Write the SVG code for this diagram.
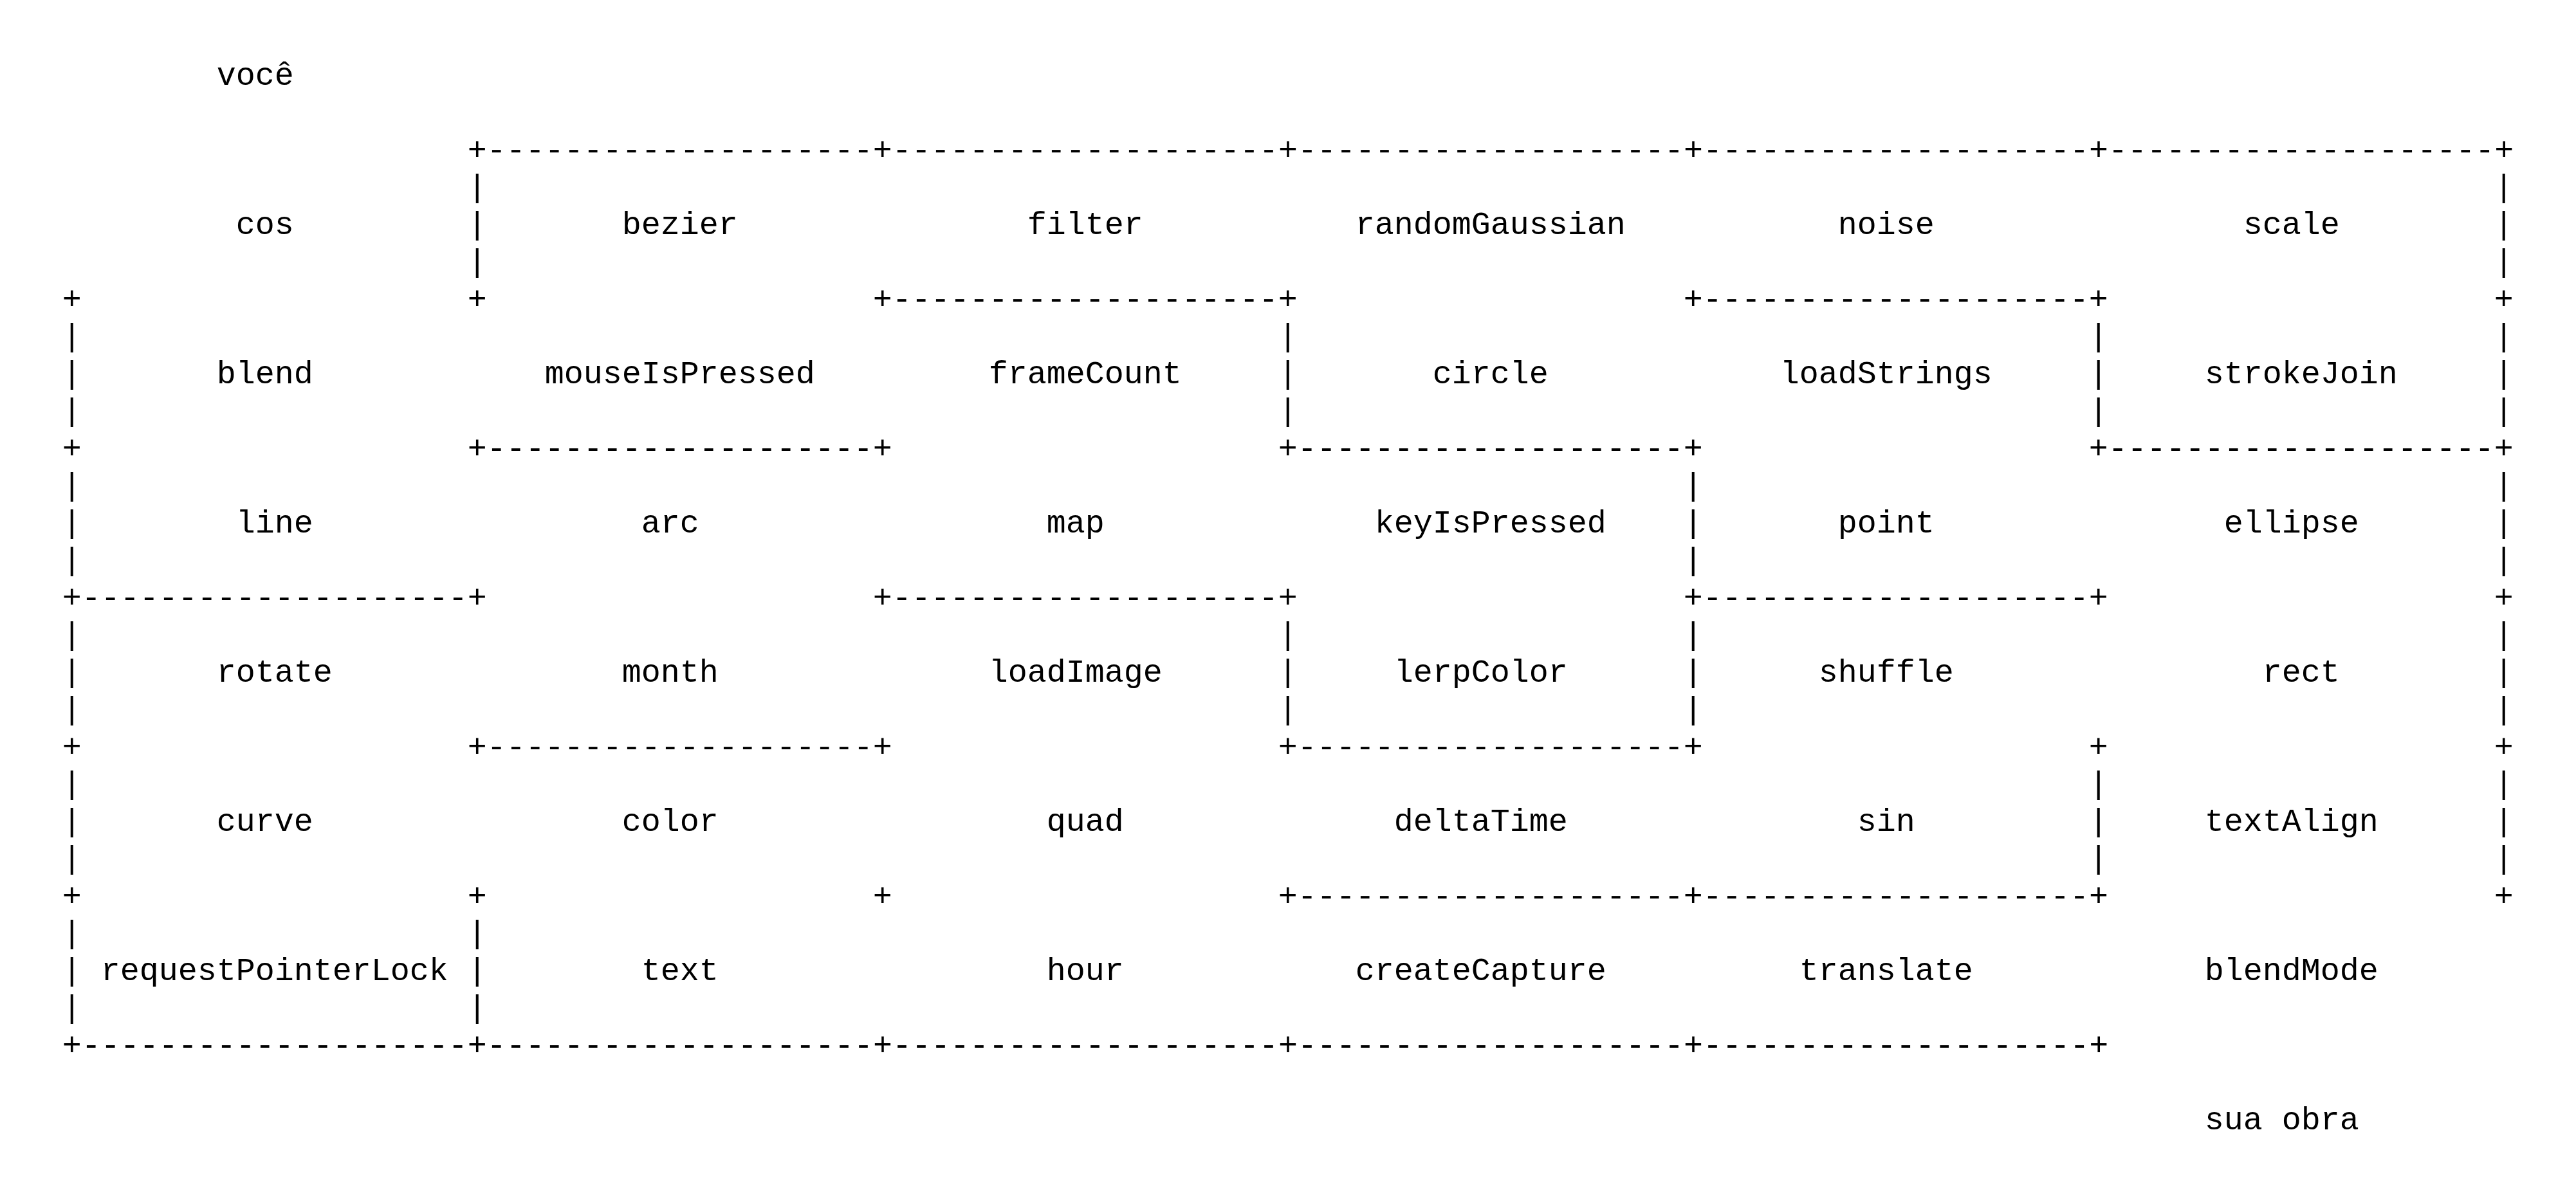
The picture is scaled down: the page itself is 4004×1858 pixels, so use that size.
<svg xmlns="http://www.w3.org/2000/svg" width="4004" height="1858" viewBox="0 0 4004 1858">
<style>
text { font-family: "Liberation Mono", "Courier New", "DejaVu Sans Mono", monospace; font-size: 50px; fill: #000; }
</style>
<rect x="0" y="0" width="4004" height="1858" fill="#fff"/>
<g id="connectors">
  <text x="726.7" y="247.7">+--------------------+--------------------+--------------------+--------------------+--------------------+</text>
  <text x="726.7" y="305.7">|</text><text x="3876.7" y="305.7">|</text>
  <text x="726.7" y="363.7">|</text><text x="3876.7" y="363.7">|</text>
  <text x="726.7" y="421.7">|</text><text x="3876.7" y="421.7">|</text>
  <text x="96.7" y="479.7">+</text><text x="726.7" y="479.7">+</text>
  <text x="1356.7" y="479.7">+--------------------+</text>
  <text x="2616.7" y="479.7">+--------------------+</text>
  <text x="3876.7" y="479.7">+</text>
  <text x="96.7" y="537.7">|</text><text x="1986.7" y="537.7">|</text><text x="3246.7" y="537.7">|</text><text x="3876.7" y="537.7">|</text>
  <text x="96.7" y="595.7">|</text><text x="1986.7" y="595.7">|</text><text x="3246.7" y="595.7">|</text><text x="3876.7" y="595.7">|</text>
  <text x="96.7" y="653.7">|</text><text x="1986.7" y="653.7">|</text><text x="3246.7" y="653.7">|</text><text x="3876.7" y="653.7">|</text>
  <text x="96.7" y="711.7">+</text>
  <text x="726.7" y="711.7">+--------------------+</text>
  <text x="1986.7" y="711.7">+--------------------+</text>
  <text x="3246.7" y="711.7">+--------------------+</text>
  <text x="96.7" y="769.7">|</text><text x="2616.7" y="769.7">|</text><text x="3876.7" y="769.7">|</text>
  <text x="96.7" y="827.7">|</text><text x="2616.7" y="827.7">|</text><text x="3876.7" y="827.7">|</text>
  <text x="96.7" y="885.7">|</text><text x="2616.7" y="885.7">|</text><text x="3876.7" y="885.7">|</text>
  <text x="96.7" y="943.7">+--------------------+</text>
  <text x="1356.7" y="943.7">+--------------------+</text>
  <text x="2616.7" y="943.7">+--------------------+</text>
  <text x="3876.7" y="943.7">+</text>
  <text x="96.7" y="1001.7">|</text><text x="1986.7" y="1001.7">|</text><text x="2616.7" y="1001.7">|</text><text x="3876.7" y="1001.7">|</text>
  <text x="96.7" y="1059.7">|</text><text x="1986.7" y="1059.7">|</text><text x="2616.7" y="1059.7">|</text><text x="3876.7" y="1059.7">|</text>
  <text x="96.7" y="1117.7">|</text><text x="1986.7" y="1117.7">|</text><text x="2616.7" y="1117.7">|</text><text x="3876.7" y="1117.7">|</text>
  <text x="96.7" y="1175.7">+</text>
  <text x="726.7" y="1175.7">+--------------------+</text>
  <text x="1986.7" y="1175.7">+--------------------+</text>
  <text x="3246.7" y="1175.7">+</text><text x="3876.7" y="1175.7">+</text>
  <text x="96.7" y="1233.7">|</text><text x="3246.7" y="1233.7">|</text><text x="3876.7" y="1233.7">|</text>
  <text x="96.7" y="1291.7">|</text><text x="3246.7" y="1291.7">|</text><text x="3876.7" y="1291.7">|</text>
  <text x="96.7" y="1349.7">|</text><text x="3246.7" y="1349.7">|</text><text x="3876.7" y="1349.7">|</text>
  <text x="96.7" y="1407.7">+</text><text x="726.7" y="1407.7">+</text><text x="1356.7" y="1407.7">+</text>
  <text x="1986.7" y="1407.7">+--------------------+--------------------+</text>
  <text x="3876.7" y="1407.7">+</text>
  <text x="96.7" y="1465.7">|</text><text x="726.7" y="1465.7">|</text>
  <text x="96.7" y="1523.7">|</text><text x="726.7" y="1523.7">|</text>
  <text x="96.7" y="1581.7">|</text><text x="726.7" y="1581.7">|</text>
  <text x="96.7" y="1639.7">+--------------------+--------------------+--------------------+--------------------+--------------------+</text>
</g>
<g id="you"><text x="336.7" y="131.7">você</text></g>
<g id="cos"><text x="366.7" y="363.7">cos</text></g>
<g id="bezier"><text x="966.7" y="363.7">bezier</text></g>
<g id="filter"><text x="1596.7" y="363.7">filter</text></g>
<g id="randomGaussian"><text x="2106.7" y="363.7">randomGaussian</text></g>
<g id="noise"><text x="2856.7" y="363.7">noise</text></g>
<g id="scale"><text x="3486.7" y="363.7">scale</text></g>
<g id="blend"><text x="336.7" y="595.7">blend</text></g>
<g id="mouseIsPressed"><text x="846.7" y="595.7">mouseIsPressed</text></g>
<g id="frameCount"><text x="1536.7" y="595.7">frameCount</text></g>
<g id="circle"><text x="2226.7" y="595.7">circle</text></g>
<g id="loadStrings"><text x="2766.7" y="595.7">loadStrings</text></g>
<g id="strokeJoin"><text x="3426.7" y="595.7">strokeJoin</text></g>
<g id="line"><text x="366.7" y="827.7">line</text></g>
<g id="arc"><text x="996.7" y="827.7">arc</text></g>
<g id="map"><text x="1626.7" y="827.7">map</text></g>
<g id="keyIsPressed"><text x="2136.7" y="827.7">keyIsPressed</text></g>
<g id="point"><text x="2856.7" y="827.7">point</text></g>
<g id="ellipse"><text x="3456.7" y="827.7">ellipse</text></g>
<g id="rotate"><text x="336.7" y="1059.7">rotate</text></g>
<g id="month"><text x="966.7" y="1059.7">month</text></g>
<g id="loadImage"><text x="1536.7" y="1059.7">loadImage</text></g>
<g id="lerpColor"><text x="2166.7" y="1059.7">lerpColor</text></g>
<g id="shuffle"><text x="2826.7" y="1059.7">shuffle</text></g>
<g id="rect"><text x="3516.7" y="1059.7">rect</text></g>
<g id="curve"><text x="336.7" y="1291.7">curve</text></g>
<g id="color"><text x="966.7" y="1291.7">color</text></g>
<g id="quad"><text x="1626.7" y="1291.7">quad</text></g>
<g id="deltaTime"><text x="2166.7" y="1291.7">deltaTime</text></g>
<g id="sin"><text x="2886.7" y="1291.7">sin</text></g>
<g id="textAlign"><text x="3426.7" y="1291.7">textAlign</text></g>
<g id="requestPointerLock"><text x="156.7" y="1523.7">requestPointerLock</text></g>
<g id="text"><text x="996.7" y="1523.7">text</text></g>
<g id="hour"><text x="1626.7" y="1523.7">hour</text></g>
<g id="createCapture"><text x="2106.7" y="1523.7">createCapture</text></g>
<g id="translate"><text x="2796.7" y="1523.7">translate</text></g>
<g id="blendMode"><text x="3426.7" y="1523.7">blendMode</text></g>
<g id="your-work"><text x="3426.7" y="1755.7">sua obra</text></g>
</svg>
